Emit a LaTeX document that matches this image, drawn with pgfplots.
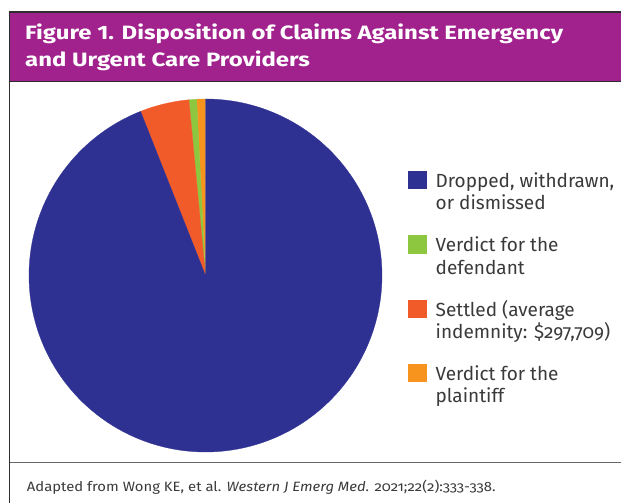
\documentclass[border=0pt]{standalone}
\usepackage{pgfplots}
\pgfplotsset{compat=1.18}
\usepackage{pgfplotstable}
\usepackage{fontspec}
\setmainfont{Fira Sans}[Numbers=OldStyle]
\newfontfamily\titlefont{Fira Sans}[Numbers=Lining, FakeStretch=1.24]
\newfontfamily\footfont{Fira Sans}[Numbers=OldStyle, FakeStretch=1.1]
\definecolor{hdr}{RGB}{161,34,141}
\definecolor{cDrop}{RGB}{46,49,146}
\definecolor{cDef}{RGB}{141,198,63}
\definecolor{cSet}{RGB}{241,90,41}
\definecolor{cPl}{RGB}{247,148,29}
\definecolor{txt}{RGB}{58,58,58}
\definecolor{frm}{RGB}{45,45,45}

% percentages, counter-clockwise from 12 o'clock
\pgfplotstableread{
label value
plaintiff 0.8
defendant 0.7
settled 4.5
dropped 94.0
}\piedata

\begin{document}
\begin{tikzpicture}
\pgfplotstablegetelem{0}{value}\of\piedata \pgfmathsetmacro\aA{90+3.6*\pgfplotsretval}
\pgfplotstablegetelem{1}{value}\of\piedata \pgfmathsetmacro\aB{\aA+3.6*\pgfplotsretval}
\pgfplotstablegetelem{2}{value}\of\piedata \pgfmathsetmacro\aC{\aB+3.6*\pgfplotsretval}
\pgfplotstablegetelem{3}{value}\of\piedata \pgfmathsetmacro\aD{\aC+3.6*\pgfplotsretval}
\path[use as bounding box] (0bp,0bp) rectangle (621bp,503bp);
% header band and frame
\fill[hdr] (9.5bp,491bp) rectangle (621bp,421.3bp);
\draw[frm, line width=1.3bp] (9.5bp,0bp) -- (9.5bp,491bp) -- (621bp,491bp);
\draw[frm, line width=1.3bp] (9.5bp,421.3bp) -- (621bp,421.3bp);
\draw[black!60, line width=0.9bp] (9.5bp,41bp) -- (621bp,41bp);
\node[anchor=base west, inner sep=0, text=white, font=\titlefont\bfseries\fontsize{19.3bp}{23bp}\selectfont] at (25bp,463.7bp) {Figure 1. Disposition of Claims Against Emergency};
\node[anchor=base west, inner sep=0, text=white, font=\titlefont\bfseries\fontsize{19.3bp}{23bp}\selectfont] at (25bp,436.3bp) {and Urgent Care Providers};
% footer
\node[anchor=base west, inner sep=0, text=txt, font=\footfont\fontsize{13.5bp}{16bp}\selectfont] at (26.7bp,11.8bp) {Adapted from Wong KE, et al. \textit{Western J Emerg Med.} 2021;22(2):333-338.};
% pie
\begin{axis}[at={(205.5bp,227.5bp)}, anchor=origin, x=176.5bp, y=176.5bp,
  xmin=-1, xmax=1, ymin=-1, ymax=1, hide axis, clip=false]
\addplot[fill=cPl, draw=cPl, line width=0.3bp, domain=90:\aA, samples=6, variable=\t] ({cos(\t)},{sin(\t)}) -- (0,0) -- cycle;
\addplot[fill=cDef, draw=cDef, line width=0.3bp, domain=\aA:\aB, samples=6, variable=\t] ({cos(\t)},{sin(\t)}) -- (0,0) -- cycle;
\addplot[fill=cSet, draw=cSet, line width=0.3bp, domain=\aB:\aC, samples=20, variable=\t] ({cos(\t)},{sin(\t)}) -- (0,0) -- cycle;
\addplot[fill=cDrop, draw=cDrop, line width=0.3bp, domain=\aC:\aD, samples=240, variable=\t] ({cos(\t)},{sin(\t)}) -- (0,0) -- cycle;
\end{axis}
% legend
\foreach \c/\la/\lb [count=\i from 0] in {cDrop/{Dropped, withdrawn,}/{or dismissed}, cDef/{Verdict for the}/{defendant}, cSet/{Settled (average}/{indemnity: \$297,709)}, cPl/{Verdict for the}/{plaintiff}} {
  \pgfmathsetmacro\yt{332-64.3*\i}
  \fill[\c] (408.3bp,\yt bp) rectangle ++(18.4bp,-18.4bp);
  \node[anchor=base west, inner sep=0, text=txt, font=\fontsize{19bp}{22bp}\selectfont] at (435.5bp,\yt bp-16.7bp) {\la};
  \node[anchor=base west, inner sep=0, text=txt, font=\fontsize{19bp}{22bp}\selectfont] at (435.5bp,\yt bp-39bp) {\lb};
}
\end{tikzpicture}
\end{document}
